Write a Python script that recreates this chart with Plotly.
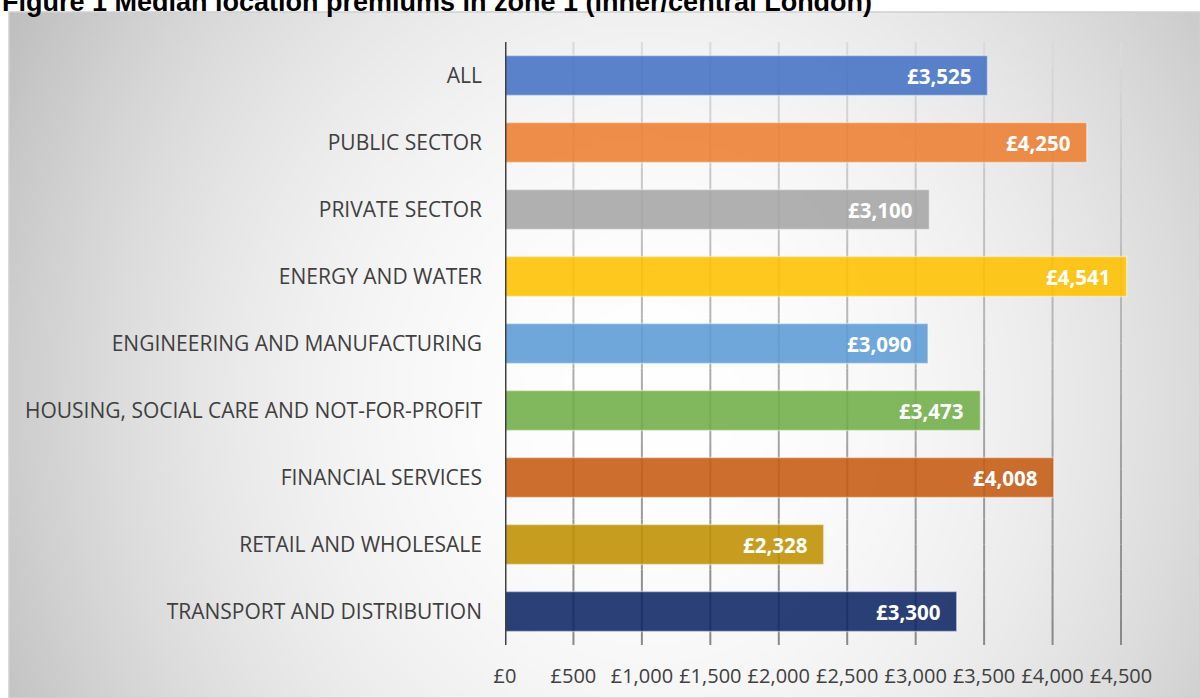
import base64
import struct
import zlib

import numpy as np
import plotly.graph_objects as go

# ---- data ---------------------------------------------------------------
categories = [
    "ALL",
    "PUBLIC SECTOR",
    "PRIVATE SECTOR",
    "ENERGY AND WATER",
    "ENGINEERING AND MANUFACTURING",
    "HOUSING, SOCIAL CARE AND NOT-FOR-PROFIT",
    "FINANCIAL SERVICES",
    "RETAIL AND WHOLESALE",
    "TRANSPORT AND DISTRIBUTION",
]
premiums = [3525, 4250, 3100, 4541, 3090, 3473, 4008, 2328, 3300]
bar_colors = [
    "#4472C4", "#ED7D31", "#A5A5A5", "#FFC000", "#5B9BD5",
    "#70AD47", "#C55A11", "#BF9000", "#0C2664",
]
x_ticks = [0, 500, 1000, 1500, 2000, 2500, 3000, 3500, 4000, 4500]
x_tick_labels = ["£0", "£500", "£1,000", "£1,500", "£2,000", "£2,500",
                 "£3,000", "£3,500", "£4,000", "£4,500"]
title_text = "Figure 1 Median location premiums in zone 1 (inner/central London)"

# ---- page geometry (pixels) ---------------------------------------------
W, H = 1200, 698
frame_left, frame_top = 9, 12
plot_left, plot_top, plot_bottom = 505, 42, 645
px_per_unit = (1121 - plot_left) / 4500
x_max = 4600
plot_right = plot_left + x_max * px_per_unit


def rgba(hex_color, a):
    h = hex_color.lstrip("#")
    r, g, b = (int(h[i:i + 2], 16) for i in (0, 2, 4))
    return f"rgba({r},{g},{b},{a})"


def png_data_uri(img):
    """Encode an HxWx3 uint8 array as a PNG data URI."""
    h, w, _ = img.shape
    raw = b"".join(b"\x00" + img[i].tobytes() for i in range(h))

    def chunk(tag, data):
        c = struct.pack(">I", len(data)) + tag + data
        return c + struct.pack(">I", zlib.crc32(tag + data) & 0xFFFFFFFF)

    png = b"\x89PNG\r\n\x1a\n"
    png += chunk(b"IHDR", struct.pack(">IIBBBBB", w, h, 8, 2, 0, 0, 0))
    png += chunk(b"IDAT", zlib.compress(raw, 9))
    png += chunk(b"IEND", b"")
    return "data:image/png;base64," + base64.b64encode(png).decode()


# soft radial shading of the chart frame: white centre, grey edges
gw, gh = 300, 172
gx = frame_left + (np.arange(gw) + 0.5) * (W - frame_left) / gw
gy = frame_top + (np.arange(gh) + 0.5) * (H - frame_top) / gh
XX, YY = np.meshgrid(gx, gy)
shade = 63 * ((XX - 650) / 720) ** 2 + 63 * ((YY - 400) / 800) ** 2
val = np.clip(255 - shade, 180, 255).astype(np.uint8)
bg_img = np.repeat(val[:, :, None], 3, axis=2)

fig = go.Figure()

fig.add_trace(go.Bar(
    x=premiums,
    y=categories,
    orientation="h",
    marker=dict(
        color=[rgba(c, 0.88) for c in bar_colors],
        line=dict(color="rgba(255,255,255,0.45)", width=1.5),
    ),
    hoverinfo="skip",
    cliponaxis=False,
))

# value labels at the inner end of each bar
for cat, val_ in zip(categories, premiums):
    fig.add_annotation(
        x=val_, y=cat, xref="x", yref="y",
        text=f"£{val_:,}",
        showarrow=False, xanchor="right", xshift=-15,
        font=dict(family="Open Sans", size=20.5, color="white", weight="bold"),
    )

shapes = []
# vertical gridlines shading from light at the top to darker at the bottom
n_seg = 24
top_rgb = np.array([220, 220, 220])
bot_rgb = np.array([136, 136, 136])
for t in x_ticks[1:]:
    for k in range(n_seg):
        f = (k + 0.5) / n_seg
        c = (top_rgb * (1 - f) + bot_rgb * f).astype(int)
        shapes.append(dict(
            type="line", xref="x", yref="y domain",
            x0=t, x1=t, y0=1 - k / n_seg, y1=1 - (k + 1) / n_seg,
            line=dict(color=f"rgb({c[0]},{c[1]},{c[2]})", width=2),
            layer="below",
        ))
# vertical axis line at zero
shapes.append(dict(
    type="line", xref="x", yref="y domain", x0=0, x1=0, y0=0, y1=1,
    line=dict(color="#404040", width=3), layer="above",
))
# chart frame outline
shapes.append(dict(
    type="rect", xref="paper", yref="paper",
    x0=frame_left / W, x1=1.0, y0=0.0, y1=1 - frame_top / H,
    line=dict(color="#cfcfcf", width=1.5), fillcolor="rgba(0,0,0,0)",
    layer="above",
))

fig.add_annotation(
    x=0, y=1 - 2 / H, xref="paper", yref="paper",
    xanchor="left", yanchor="middle", showarrow=False,
    text=f"<b>{title_text}</b>",
    font=dict(family="Liberation Sans, Arial", size=27, color="black"),
)

fig.update_layout(
    width=W, height=H,
    margin=dict(l=0, r=0, t=0, b=0, pad=0),
    paper_bgcolor="white",
    plot_bgcolor="rgba(0,0,0,0)",
    showlegend=False,
    bargap=0.4,
    shapes=shapes,
    images=[dict(
        source=png_data_uri(bg_img),
        xref="paper", yref="paper",
        x=frame_left / W, y=1 - frame_top / H,
        sizex=(W - frame_left) / W, sizey=(H - frame_top) / H,
        xanchor="left", yanchor="top", sizing="stretch", layer="below",
    )],
    xaxis=dict(
        domain=[plot_left / W, plot_right / W],
        range=[0, x_max],
        tickvals=x_ticks, ticktext=x_tick_labels,
        showgrid=False, zeroline=False, showline=False,
        ticks="", ticklabelstandoff=17, automargin=False,
        tickfont=dict(family="Open Sans", size=20, color="#404040"),
        fixedrange=True,
    ),
    yaxis=dict(
        domain=[(H - plot_bottom) / H, (H - plot_top) / H],
        autorange="reversed",
        showgrid=False, zeroline=False, showline=False,
        ticks="", ticklabelstandoff=22, automargin=False,
        tickfont=dict(family="Open Sans", size=21, color="#404040"),
        fixedrange=True,
    ),
)

fig.write_html("out.html")
